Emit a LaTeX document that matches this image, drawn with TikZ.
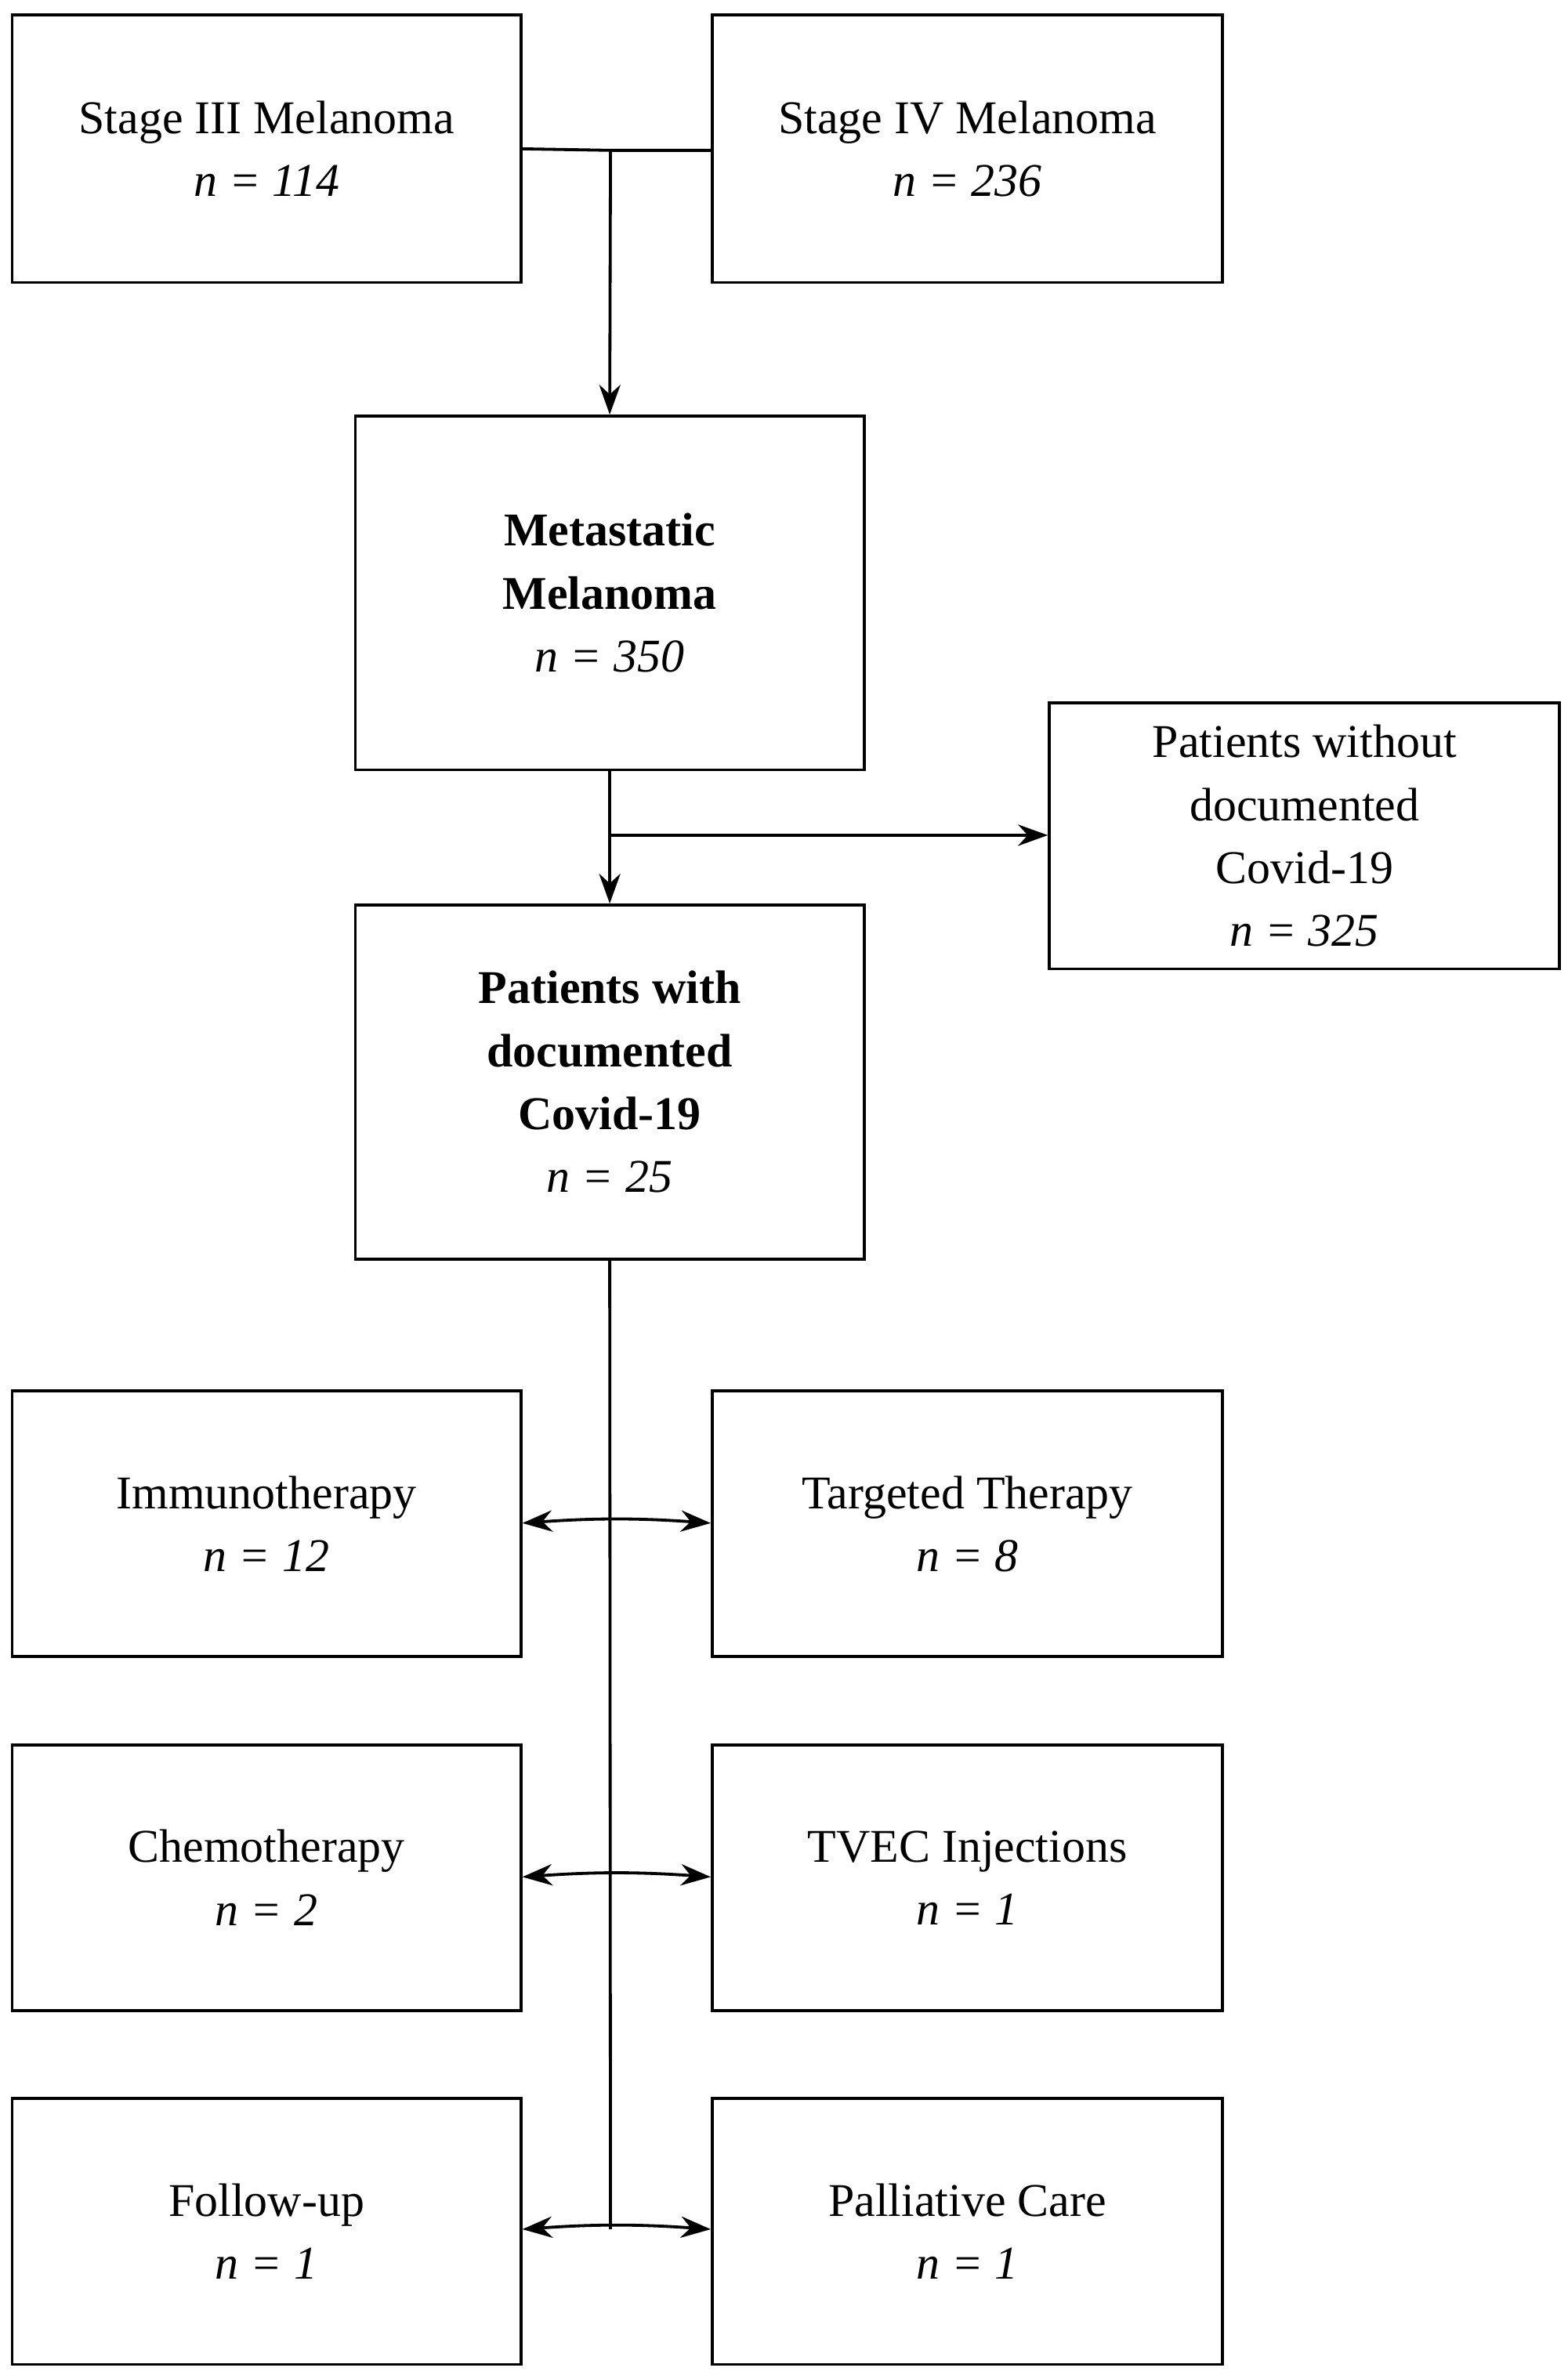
\documentclass[tikz,border=0pt]{standalone}
\usepackage{fontspec}
\setmainfont{Liberation Serif}
\usetikzlibrary{arrows.meta}
\begin{document}
\begin{tikzpicture}[x=0.05cm,y=-0.05cm,
 box/.style={draw,line width=2.8pt,inner sep=0pt,align=center,font=\fontsize{44}{59}\selectfont},
 ln/.style={line width=2.8pt},
 arr/.style={ln,-{Stealth[length=28pt,width=20pt]}},
 darr/.style={ln,{Stealth[length=28pt,width=20pt]}-{Stealth[length=28pt,width=20pt]}}]
\useasboundingbox (0,0) rectangle (1032,1564);
\newcommand{\bx}[6]{\node[box,minimum width={(#4-#2)*0.05cm},minimum height={(#5-#3)*0.05cm}] (#1) at ({(#2+#4)/2},{(#3+#5)/2}) {#6};}
\bx{s3}{8}{10}{343}{186}{Stage III Melanoma\\\textit{n = 114}}
\bx{s4}{469}{10}{805}{186}{Stage IV Melanoma\\\textit{n = 236}}
\bx{met}{234}{274}{569}{507}{\textbf{Metastatic}\\\textbf{Melanoma}\\\textit{n = 350}}
\bx{wo}{691}{463}{1027}{638}{Patients without\\documented\\Covid-19\\\textit{n = 325}}
\bx{wi}{234}{596}{569}{829}{\textbf{Patients with}\\\textbf{documented}\\\textbf{Covid-19}\\\textit{n = 25}}
\bx{im}{8}{916}{343}{1091}{Immunotherapy\\\textit{n = 12}}
\bx{tt}{469}{916}{805}{1091}{Targeted Therapy\\\textit{n = 8}}
\bx{ch}{8}{1149}{343}{1324}{Chemotherapy\\\textit{n = 2}}
\bx{tv}{469}{1149}{805}{1324}{TVEC Injections\\\textit{n = 1}}
\bx{fu}{8}{1382}{343}{1557}{Follow-up\\\textit{n = 1}}
\bx{pc}{469}{1382}{805}{1557}{Palliative Care\\\textit{n = 1}}
\coordinate (j1) at (402,99);
\draw[ln] (s3.east|-0,98) -- (j1) -- (s4.west|-0,99);
\draw[arr] (j1) -- (met.north);
\draw[arr] (met.south) -- (wi.north);
\coordinate (j2) at (402,550);
\draw[arr] (j2) -- (wo.west|-j2);
\coordinate (j3) at (402,1468);
\draw[ln] (wi.south) -- (j3);
\draw[darr] (im.east|-0,1003) to[bend left=4] (tt.west|-0,1003);
\draw[darr] (ch.east|-0,1236) to[bend left=4] (tv.west|-0,1236);
\draw[darr] (fu.east|-0,1468) to[bend left=4] (pc.west|-0,1468);
\end{tikzpicture}
\end{document}
